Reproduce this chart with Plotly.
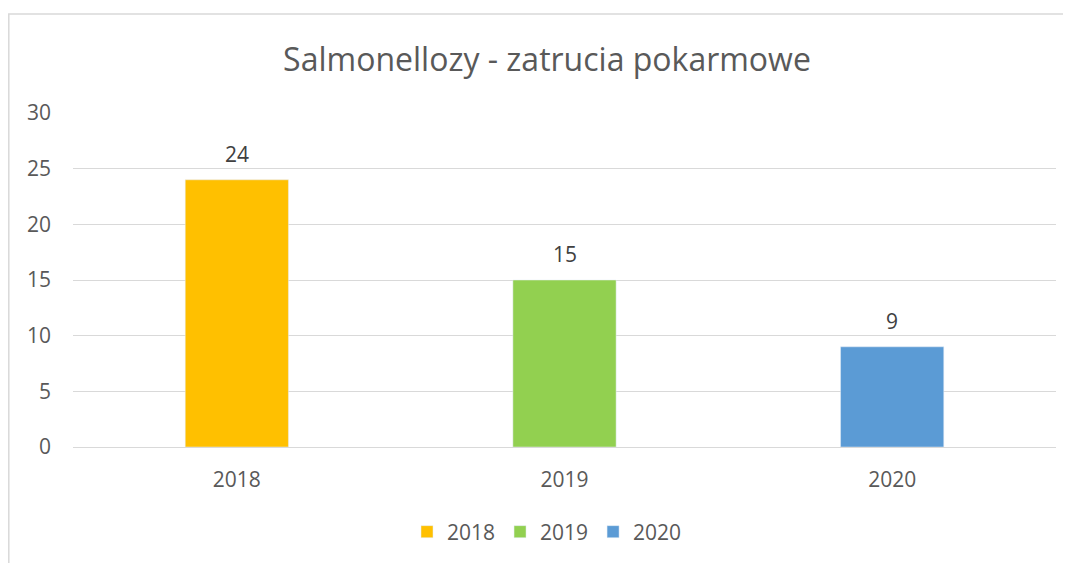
import plotly.graph_objects as go

years = ["2018", "2019", "2020"]
values = [24, 15, 9]
colors = ["#FFC000", "#92D050", "#5B9BD5"]
y_ticks = [0, 5, 10, 15, 20, 25, 30]

# page body has an 8px margin, so the figure is drawn 8px down/right
OFF = 8
W, H = 1071 - OFF, 563 - OFF
L, R, T, B = 73 - OFF, 15, 113 - OFF, 115
pw = W - L - R
ph = H - T - B
FONT = "Open Sans"

fig = go.Figure()
for i, (yr, v, c) in enumerate(zip(years, values, colors)):
    fig.add_trace(go.Bar(x=[yr], y=[v], name=yr, marker_color=c, width=0.315))
    # category index i on the category axis
    fig.add_annotation(x=i, y=v, xref="x", yref="y", text=str(v), showarrow=False,
                       yshift=26, font=dict(size=21, color="#404040", family=FONT))

fig.add_shape(type="rect", xref="paper", yref="paper",
              x0=(8.8 - OFF - L) / pw, x1=(W + 10 - L) / pw,
              y0=-(B + 10) / ph, y1=(H - (13.8 - OFF) - B) / ph,
              line=dict(color="#D9D9D9", width=1.5), fillcolor="rgba(0,0,0,0)")

fig.update_layout(
    width=W, height=H,
    margin=dict(l=L, r=R, t=T, b=B),
    paper_bgcolor="white", plot_bgcolor="white",
    barmode="overlay",
    title=dict(text="Salmonellozy - zatrucia pokarmowe", x=(547 - OFF) / W, xanchor="center",
               xref="container", y=1 - (60 - OFF) / H, yanchor="middle",
               font=dict(size=32, color="#595959", family=FONT)),
    xaxis=dict(type="category", categoryorder="array", categoryarray=years,
               range=[-0.5, len(years) - 0.5],
               showgrid=False, showline=False, ticks="", ticklabelstandoff=18,
               tickfont=dict(size=21, color="#595959", family=FONT)),
    yaxis=dict(range=[0, 30], tickvals=y_ticks, showgrid=True, gridcolor="#D9D9D9",
               gridwidth=1.3, zeroline=True, zerolinecolor="#D9D9D9", zerolinewidth=1.3,
               ticks="", ticklabelstandoff=21,
               tickfont=dict(size=21, color="#595959", family=FONT)),
    legend=dict(orientation="h", x=(547 - OFF - L) / pw, xanchor="center",
                y=-(B - (H - (532 - OFF))) / ph, yanchor="middle",
                font=dict(size=21, color="#595959", family=FONT),
                itemwidth=30, traceorder="normal"),
    showlegend=True,
)

fig.write_html("out.html")
